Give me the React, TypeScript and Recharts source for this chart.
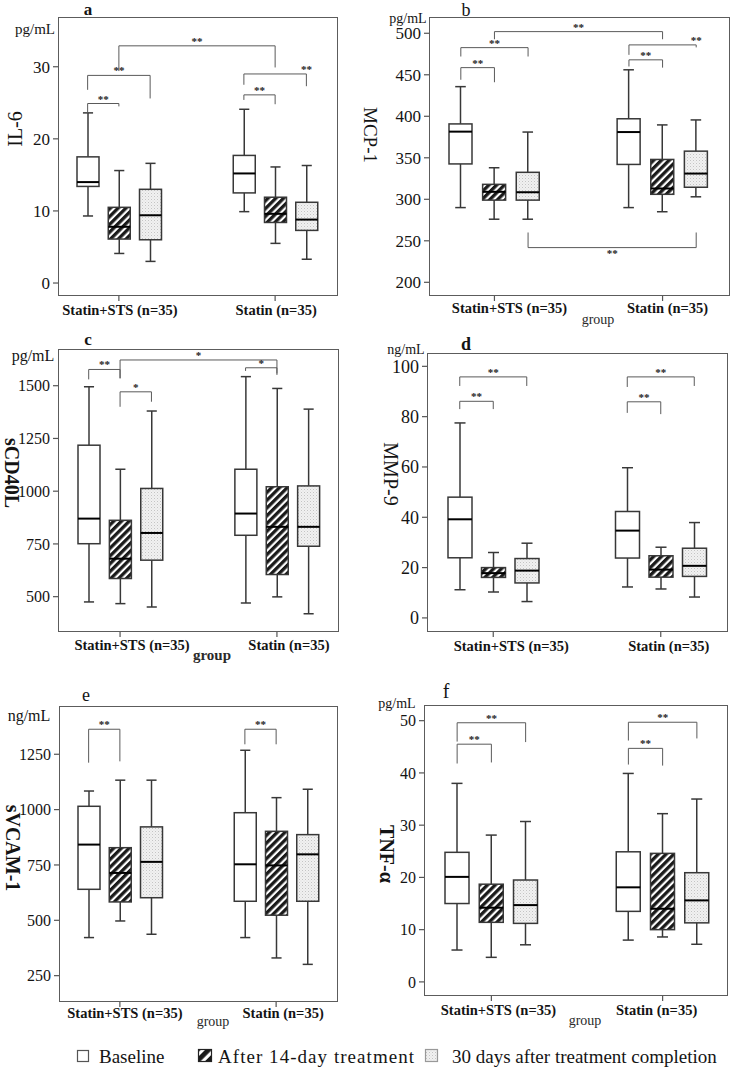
import React from "react"
import { Bar, ComposedChart, ReferenceDot, ReferenceLine, XAxis, YAxis } from "recharts"

const SERIF = '"Liberation Serif", "Times New Roman", serif'
const INK = "#141414"
const LINE = "#383838"
const BRACKET = "#5a5a5a"

const GROUPS = ["Statin+STS (n=35)", "Statin (n=35)"]
const SERIES = ["Baseline", "After 14-day treatment", "30 days after treatment completion"]
// x slots: three boxes per group, two empty slots between the groups
const SLOTS = ["b1", "a1", "t1", "gap1", "gap2", "b2", "a2", "t2"]
const BOX_SLOTS = ["b1", "a1", "t1", "b2", "a2", "t2"]
const LABEL_SLOTS: Record<string, number> = { a1: 0, a2: 1 }

// [min, q1, median, q3, max]; Statin+STS baseline/14d/30d, then Statin baseline/14d/30d
const IL6 = [
  [9.3, 13.4, 14.0, 17.5, 23.6],
  [4.1, 6.1, 7.8, 10.5, 15.6],
  [3.0, 6.0, 9.4, 13.0, 16.6],
  [9.9, 12.5, 15.2, 17.7, 24.1],
  [5.5, 8.4, 9.6, 11.9, 16.1],
  [3.3, 7.3, 8.8, 11.2, 16.3],
]
const MCP1 = [
  [290, 342.6, 381.5, 390.8, 435.7],
  [276, 299, 309, 318, 338],
  [276, 299, 308.5, 332.5, 381],
  [290, 342, 381, 397, 456],
  [285, 306, 313, 348, 389.6],
  [303, 314.5, 331, 358, 395.6],
]
const SCD40L = [
  [475, 751, 870, 1218, 1495],
  [467, 586, 680, 862, 1104],
  [451, 673, 802, 1013, 1380],
  [470, 791, 894, 1104, 1543],
  [499, 605, 831, 1021, 1487],
  [419, 739, 831, 1025, 1389],
]
const MMP9 = [
  [11.2, 23.9, 39.2, 48, 77.5],
  [10.3, 16.1, 17.8, 20, 26],
  [6.5, 13.9, 18.8, 23.6, 29.7],
  [12.3, 23.8, 34.7, 42.3, 59.7],
  [11.5, 16.2, 19.2, 24.7, 28.1],
  [8.3, 16.5, 20.7, 27.7, 37.9],
]
const SVCAM1 = [
  [422, 640, 842, 1015, 1084],
  [497, 583, 714, 828, 1133],
  [437, 602, 764, 922, 1133],
  [422, 586, 753, 986, 1268],
  [330, 523, 748, 902, 1054],
  [301, 586, 798, 887, 1092],
]
const TNFA = [
  [6.1, 15, 20.1, 24.8, 38],
  [4.7, 11.4, 14.2, 18.7, 28.1],
  [7.1, 11.2, 14.7, 19.5, 30.7],
  [8.0, 13.5, 18.1, 24.9, 39.9],
  [8.6, 10.0, 14.0, 24.6, 32.2],
  [7.2, 11.3, 15.6, 20.9, 35],
]

// significance brackets: [from, to, line, left leg end, right leg end, mark, mark slot]
const IL6_SIG: any[] = [
  ["b1", "a1", 24.9, 23.5, 24.5, "**"],
  ["b1", "t1", 28.8, 26.8, 25.6, "**"],
  ["a1", "a2", 32.9, 29.4, 29.9, "**"],
  ["b2", "a2", 26.1, 25.4, 24.8, "**"],
  ["b2", "t2", 29.0, 27.5, 27.3, "**", "t2"],
]
const MCP1_SIG: any[] = [
  ["b1", "a1", 458.6, 444, 441, "**"],
  ["b1", "t1", 482.7, 472, 472, "**"],
  ["a1", "a2", 502, 492.8, 492.8, "**"],
  ["b2", "a2", 468, 460, 458.6, "**"],
  ["b2", "t2", 486, 474, 483, "**", "t2"],
  ["t1", "t2", 241.8, 260, 260, "**"],
]
const SCD40L_SIG: any[] = [
  ["b1", "a1", 1577, 1530, 1535, "**"],
  ["a1", "t1", 1471, 1400, 1424, "*"],
  ["a1", "a2", 1622, 1535, 1558, "*"],
  ["b2", "a2", 1585, 1570, 1551, "*"],
]
const MMP9_SIG: any[] = [
  ["b1", "a1", 86.1, 83, 83, "**"],
  ["b1", "t1", 95.8, 92.2, 92.2, "**"],
  ["b2", "a2", 85.9, 81.5, 81, "**"],
  ["b2", "t2", 95.8, 91.8, 92.2, "**"],
]
const SVCAM1_SIG: any[] = [
  ["b1", "a1", 1363, 1212, 1218, "**"],
  ["b2", "a2", 1363, 1295, 1295, "**"],
]
const TNFA_SIG: any[] = [
  ["b1", "a1", 45.5, 41.8, 42, "**"],
  ["b1", "t1", 49.6, 46, 45.9, "**"],
  ["b2", "a2", 44.7, 41.6, 41.4, "**"],
  ["b2", "t2", 49.7, 46.2, 46.6, "**"],
]

const PANELS = [
  {
    id: "a", boxes: IL6, sig: IL6_SIG, domain: [-1.8, 36.9], ticks: [0, 10, 20, 30],
    frame: { x: 58, y: 17, w: 280, h: 279 }, pad: [14, 16], bar: 22, tickFont: 17, labelDx: [1, 1], labelDy: 14,
    letter: { x: 88, y: 9, size: 17, bold: true },
    unit: { t: "pg/mL", x: 35, y: 29, size: 15 },
    title: { t: "IL-6", x: 15, y: 129, size: 20, bold: false, rot: -90 },
    group: null,
  },
  {
    id: "b", boxes: MCP1, sig: MCP1_SIG, domain: [183.5, 519.6], ticks: [200, 250, 300, 350, 400, 450, 500],
    frame: { x: 429, y: 17, w: 301, h: 279 }, pad: [15, 17], bar: 23, tickFont: 17, labelDx: [15, 5], labelDy: 12,
    letter: { x: 466, y: 10, size: 18, bold: false },
    unit: { t: "pg/mL", x: 408, y: 19, size: 14 },
    title: { t: "MCP-1", x: 370, y: 135, size: 19, bold: false, rot: 90 },
    group: { x: 598, y: 320, size: 14, bold: false },
  },
  {
    id: "c", boxes: SCD40L, sig: SCD40L_SIG, domain: [332.5, 1674], ticks: [500, 750, 1000, 1250, 1500],
    frame: { x: 58, y: 349, w: 281, h: 283 }, pad: [15, 15], bar: 22, tickFont: 16, labelDx: [12, 12], labelDy: 13,
    letter: { x: 88, y: 339, size: 17, bold: true },
    unit: { t: "pg/mL", x: 33, y: 356, size: 16 },
    title: { t: "sCD40L", x: 12, y: 473, size: 20, bold: true, rot: 90 },
    group: { x: 212, y: 655, size: 15, bold: true },
  },
  {
    id: "d", boxes: MMP9, sig: MMP9_SIG, domain: [-5.6, 105.3], ticks: [0, 20, 40, 60, 80, 100],
    frame: { x: 427, y: 353, w: 301, h: 279 }, pad: [16, 17], bar: 24, tickFont: 18, labelDx: [18, 8], labelDy: 14,
    letter: { x: 466, y: 344, size: 18, bold: true },
    unit: { t: "ng/mL", x: 406, y: 350, size: 14 },
    title: { t: "MMP-9", x: 391, y: 474, size: 20, bold: false, rot: 90 },
    group: null,
  },
  {
    id: "e", boxes: SVCAM1, sig: SVCAM1_SIG, domain: [131, 1468], ticks: [250, 500, 750, 1000, 1250],
    frame: { x: 59, y: 706, w: 279, h: 296 }, pad: [14, 15], bar: 22, tickFont: 16, labelDx: [5, 7], labelDy: 11,
    letter: { x: 86, y: 695, size: 18, bold: false },
    unit: { t: "ng/mL", x: 29, y: 716, size: 16 },
    title: { t: "sVCAM-1", x: 13, y: 848, size: 20, bold: true, rot: 90 },
    group: { x: 213, y: 1022, size: 14, bold: false },
  },
  {
    id: "f", boxes: TNFA, sig: TNFA_SIG, domain: [-2.7, 53], ticks: [0, 10, 20, 30, 40, 50],
    frame: { x: 424, y: 705, w: 304, h: 291 }, pad: [16, 14], bar: 24, tickFont: 16, labelDx: [7, -6], labelDy: 14,
    letter: { x: 446, y: 691, size: 20, bold: false },
    unit: { t: "pg/mL", x: 397, y: 704, size: 14 },
    title: { t: "TNF-α", x: 387, y: 854, size: 20, bold: true, rot: 90 },
    group: { x: 585, y: 1021, size: 14, bold: false },
  },
]

function Patterns({ pid, wide }: { pid: string; wide?: boolean }) {
  const s = wide ? 8 : 5.5
  return (
    <defs>
      <pattern id={`hatch-${pid}`} patternUnits="userSpaceOnUse" width={s} height={s} patternTransform="rotate(45)">
        <rect width={s} height={s} fill="#fff" />
        <rect width={s * 0.6} height={s} fill="#1a1a1a" />
      </pattern>
      <pattern id={`dots-${pid}`} patternUnits="userSpaceOnUse" width={3} height={3}>
        <rect width={3} height={3} fill="#f1f1f1" />
        <rect width={1} height={1} fill="#c4c4c4" />
        <rect x={1.5} y={1.5} width={1} height={1} fill="#dadada" />
      </pattern>
    </defs>
  )
}

function BoxShape(props: any) {
  const { x, y, width, height, payload, pid } = props
  if (!payload || !payload.stats || !Number.isFinite(y) || !Number.isFinite(height)) return null
  const [mn, q1, md, q3, mx] = payload.stats
  const py = (v: number) => y + ((mx - v) / (mx - mn)) * height
  const cx = x + width / 2
  const cap = width * 0.23
  const fill = payload.kind === 0 ? "#fff" : payload.kind === 1 ? `url(#hatch-${pid})` : `url(#dots-${pid})`
  return (
    <g>
      <line x1={cx} x2={cx} y1={py(mx)} y2={py(q3)} stroke={LINE} strokeWidth={1.5} />
      <line x1={cx} x2={cx} y1={py(q1)} y2={py(mn)} stroke={LINE} strokeWidth={1.5} />
      <line x1={cx - cap} x2={cx + cap} y1={py(mx)} y2={py(mx)} stroke={LINE} strokeWidth={1.5} />
      <line x1={cx - cap} x2={cx + cap} y1={py(mn)} y2={py(mn)} stroke={LINE} strokeWidth={1.5} />
      <rect x={x} y={py(q3)} width={width} height={py(q1) - py(q3)} fill={fill} stroke={LINE} strokeWidth={1.5} />
      <line x1={x} x2={x + width} y1={py(md)} y2={py(md)} stroke="#000" strokeWidth={2} />
    </g>
  )
}

function GroupTick(props: any) {
  const { x, y, payload, dx, dy } = props
  const gi = LABEL_SLOTS[payload.value]
  if (gi === undefined) return <g />
  return (
    <g>
      <line x1={x} x2={x} y1={y} y2={y + 5} stroke="#555" strokeWidth={1.2} />
      <text
        x={x + dx[gi]}
        y={y + dy}
        textAnchor="middle"
        dominantBaseline="central"
        fontFamily={SERIF}
        fontWeight="bold"
        fontSize={14.5}
        fill={INK}
      >
        {GROUPS[gi]}
      </text>
    </g>
  )
}

function brackets(sig: any[]) {
  return sig.flatMap((b, i) => {
    const [from, to, top, endL, endR, mark, markSlot] = b
    const down = endL < top
    const label = {
      value: mark,
      position: down ? "top" : "bottom",
      offset: down ? 1 : 2,
      fill: "#222",
      fontSize: 11,
      fontWeight: "bold",
      fontFamily: SERIF,
    }
    const els = [
      <ReferenceLine
        key={`h${i}`}
        segment={[{ x: from, y: top }, { x: to, y: top }]}
        stroke={BRACKET}
        strokeWidth={1}
        label={markSlot ? undefined : (label as any)}
      />,
      <ReferenceLine key={`l${i}`} segment={[{ x: from, y: top }, { x: from, y: endL }]} stroke={BRACKET} strokeWidth={1} />,
      <ReferenceLine key={`r${i}`} segment={[{ x: to, y: top }, { x: to, y: endR }]} stroke={BRACKET} strokeWidth={1} />,
    ]
    if (markSlot) {
      els.push(
        <ReferenceDot key={`d${i}`} x={markSlot} y={top} r={0} fill="none" stroke="none" label={label as any} />
      )
    }
    return els
  })
}

function Txt({ t, x, y, size, bold, rot, color }: any) {
  return (
    <div
      style={{
        position: "absolute",
        left: x,
        top: y,
        transform: `translate(-50%, -50%)${rot ? ` rotate(${rot}deg)` : ""}`,
        fontFamily: SERIF,
        fontSize: size,
        fontWeight: bold ? "bold" : "normal",
        color: color || INK,
        whiteSpace: "nowrap",
        lineHeight: 1,
      }}
    >
      {t}
    </div>
  )
}

function Panel({ p }: { p: any }) {
  const data = SLOTS.map((slot) => {
    const i = BOX_SLOTS.indexOf(slot)
    return { slot, stats: i >= 0 ? p.boxes[i] : null, kind: i >= 0 ? i % 3 : -1 }
  })
  const { frame } = p
  return (
    <>
      <div style={{ position: "absolute", left: frame.x - 60, top: frame.y - 10 }}>
        <ComposedChart
          width={frame.w + 70}
          height={frame.h + 50}
          data={data}
          margin={{ top: 10, right: 10, bottom: 0, left: 0 }}
        >
          <Patterns pid={p.id} />
          <XAxis
            dataKey="slot"
            type="category"
            interval={0}
            height={40}
            padding={{ left: p.pad[0], right: p.pad[1] }}
            axisLine={false}
            tickLine={false}
            tickSize={0}
            tickMargin={0}
            tick={(tp: any) => <GroupTick {...tp} dx={p.labelDx} dy={p.labelDy} />}
          />
          <YAxis
            type="number"
            domain={p.domain}
            ticks={p.ticks}
            allowDataOverflow
            width={60}
            axisLine={false}
            tickSize={5}
            tickMargin={3}
            tickLine={{ stroke: "#555", strokeWidth: 1.2 }}
            tick={{ fontSize: p.tickFont, fill: INK, fontFamily: SERIF }}
          />
          <Bar
            dataKey={(d: any) => (d.stats ? [d.stats[0], d.stats[4]] : null)}
            barSize={p.bar}
            isAnimationActive={false}
            shape={(sp: any) => <BoxShape {...sp} pid={p.id} />}
          />
          {brackets(p.sig)}
        </ComposedChart>
      </div>
      <div
        style={{
          position: "absolute",
          left: frame.x,
          top: frame.y,
          width: frame.w,
          height: frame.h,
          border: "1.5px solid #5c5c5c",
          boxSizing: "border-box",
          pointerEvents: "none",
        }}
      />
      <Txt t={p.id} {...p.letter} />
      <Txt {...p.unit} />
      <Txt {...p.title} />
      {p.group && <Txt t="group" {...p.group} color="#2a2a2a" />}
    </>
  )
}

function LegendRow() {
  return (
    <svg width={750} height={32} style={{ position: "absolute", left: 0, top: 1040 }}>
      <Patterns pid="legend" wide />
      <rect x={77.5} y={10.5} width={11} height={11} fill="#fff" stroke="#555" strokeWidth={1.2} />
      <text x={99} y={22.5} fontFamily={SERIF} fontSize={19} fill={INK}>
        {SERIES[0]}
      </text>
      <rect x={198.5} y={9.5} width={13} height={12} fill="url(#hatch-legend)" stroke="#222" strokeWidth={1.2} />
      <text x={218} y={22.5} fontFamily={SERIF} fontSize={19} fill={INK} textLength={196} lengthAdjust="spacing">
        {SERIES[1]}
      </text>
      <rect x={425.5} y={9.5} width={12} height={12} fill="url(#dots-legend)" stroke="#999" strokeWidth={1.2} />
      <text x={452} y={22.5} fontFamily={SERIF} fontSize={19} fill={INK}>
        {SERIES[2]}
      </text>
    </svg>
  )
}

export default function App() {
  return (
    <div
      style={{
        position: "absolute",
        left: 0,
        top: 0,
        width: 750,
        height: 1070,
        background: "#fff",
        overflow: "hidden",
        fontFamily: SERIF,
      }}
    >
      {PANELS.map((p) => (
        <Panel key={p.id} p={p} />
      ))}
      <LegendRow />
    </div>
  )
}
